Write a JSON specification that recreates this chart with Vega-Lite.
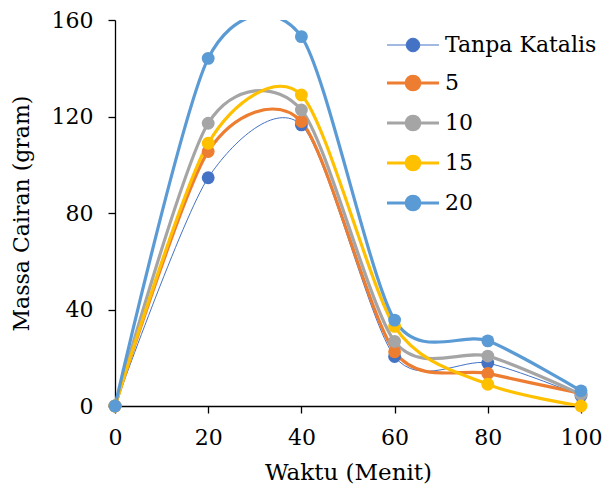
{
  "$schema": "https://vega.github.io/schema/vega-lite/v6.json",
  "width": 466,
  "height": 386,
  "autosize": "none",
  "padding": {"left": 115, "top": 20, "right": 22, "bottom": 84},
  "background": "white",
  "config": {
    "view": {"stroke": null},
    "font": "DejaVu Serif",
    "axis": {
      "grid": false,
      "domainColor": "black",
      "domainWidth": 1.3,
      "tickColor": "black",
      "tickWidth": 1.3,
      "tickSize": 7,
      "labelFont": "DejaVu Serif",
      "labelFontSize": 22,
      "labelColor": "black",
      "labelFlush": false,
      "labelOverlap": false,
      "titleFont": "DejaVu Serif",
      "titleFontWeight": "normal",
      "titleColor": "black"
    }
  },
  "data": {
    "values": [
      {"t": 0, "m": 0, "s": "Tanpa Katalis"},
      {"t": 20, "m": 94.6, "s": "Tanpa Katalis"},
      {"t": 40, "m": 116.5, "s": "Tanpa Katalis"},
      {"t": 60, "m": 20.5, "s": "Tanpa Katalis"},
      {"t": 80, "m": 17.8, "s": "Tanpa Katalis"},
      {"t": 100, "m": 4.3, "s": "Tanpa Katalis"},
      {"t": 0, "m": 0, "s": "5"},
      {"t": 20, "m": 105.5, "s": "5"},
      {"t": 40, "m": 117.9, "s": "5"},
      {"t": 60, "m": 22.5, "s": "5"},
      {"t": 80, "m": 13.5, "s": "5"},
      {"t": 100, "m": 5.2, "s": "5"},
      {"t": 0, "m": 0, "s": "10"},
      {"t": 20, "m": 117.2, "s": "10"},
      {"t": 40, "m": 122.7, "s": "10"},
      {"t": 60, "m": 26.8, "s": "10"},
      {"t": 80, "m": 20.7, "s": "10"},
      {"t": 100, "m": 4.8, "s": "10"},
      {"t": 0, "m": 0, "s": "15"},
      {"t": 20, "m": 108.9, "s": "15"},
      {"t": 40, "m": 128.9, "s": "15"},
      {"t": 60, "m": 33, "s": "15"},
      {"t": 80, "m": 9, "s": "15"},
      {"t": 100, "m": 0, "s": "15"},
      {"t": 0, "m": 0, "s": "20"},
      {"t": 20, "m": 144.1, "s": "20"},
      {"t": 40, "m": 153.1, "s": "20"},
      {"t": 60, "m": 35.6, "s": "20"},
      {"t": 80, "m": 27, "s": "20"},
      {"t": 100, "m": 6.3, "s": "20"}
    ]
  },
  "encoding": {
    "x": {
      "field": "t",
      "type": "quantitative",
      "scale": {"domain": [0, 100], "nice": false},
      "axis": {"values": [0, 20, 40, 60, 80, 100], "title": "Waktu (Menit)", "titleFontSize": 23, "labelPadding": 14, "titlePadding": 13}
    },
    "y": {
      "field": "m",
      "type": "quantitative",
      "scale": {"domain": [0, 160], "nice": false},
      "axis": {"values": [0, 40, 80, 120, 160], "title": "Massa Cairan (gram)", "titleFontSize": 22, "labelPadding": 15, "titlePadding": 18}
    },
    "color": {
      "field": "s",
      "type": "nominal",
      "sort": ["Tanpa Katalis", "5", "10", "15", "20"],
      "scale": {
        "domain": ["Tanpa Katalis", "5", "10", "15", "20"],
        "range": ["#4472C4", "#ED7D31", "#A5A5A5", "#FFC000", "#5B9BD5"]
      },
      "legend": {
        "title": null,
        "orient": "none",
        "legendX": 287,
        "legendY": 14,
        "padding": 0,
        "symbolType": "M-1.6,0L-0.42,0M0.42,0L1.6,0M0.42,0L0.388,0.161L0.297,0.297L0.161,0.388L0,0.42L-0.161,0.388L-0.297,0.297L-0.388,0.161L-0.42,0L-0.388,-0.161L-0.297,-0.297L-0.161,-0.388L0,-0.42L0.161,-0.388L0.297,-0.297L0.388,-0.161Z",
        "symbolSize": 1056,
        "symbolStrokeWidth": 3,
        "labelOffset": 21,
        "labelFont": "DejaVu Serif",
        "labelFontSize": 22,
        "labelColor": "black",
        "rowPadding": 14,
        "encode": {
          "symbols": {
            "update": {
              "fill": {"scale": "color", "field": "value"},
              "stroke": {"scale": "color", "field": "value"},
              "strokeWidth": {"signal": "datum.value === 'Tanpa Katalis' ? 1 : 3"},
              "opacity": {"value": 1}
            }
          }
        }
      }
    }
  },
  "layer": [
    {
      "mark": {"type": "line", "interpolate": "cardinal", "tension": 0.2, "clip": true},
      "encoding": {
        "strokeWidth": {
          "condition": {"test": "datum.s === 'Tanpa Katalis'", "value": 1},
          "value": 3.2
        }
      }
    },
    {
      "mark": {"type": "point", "filled": true, "size": 165, "opacity": 1}
    }
  ]
}
